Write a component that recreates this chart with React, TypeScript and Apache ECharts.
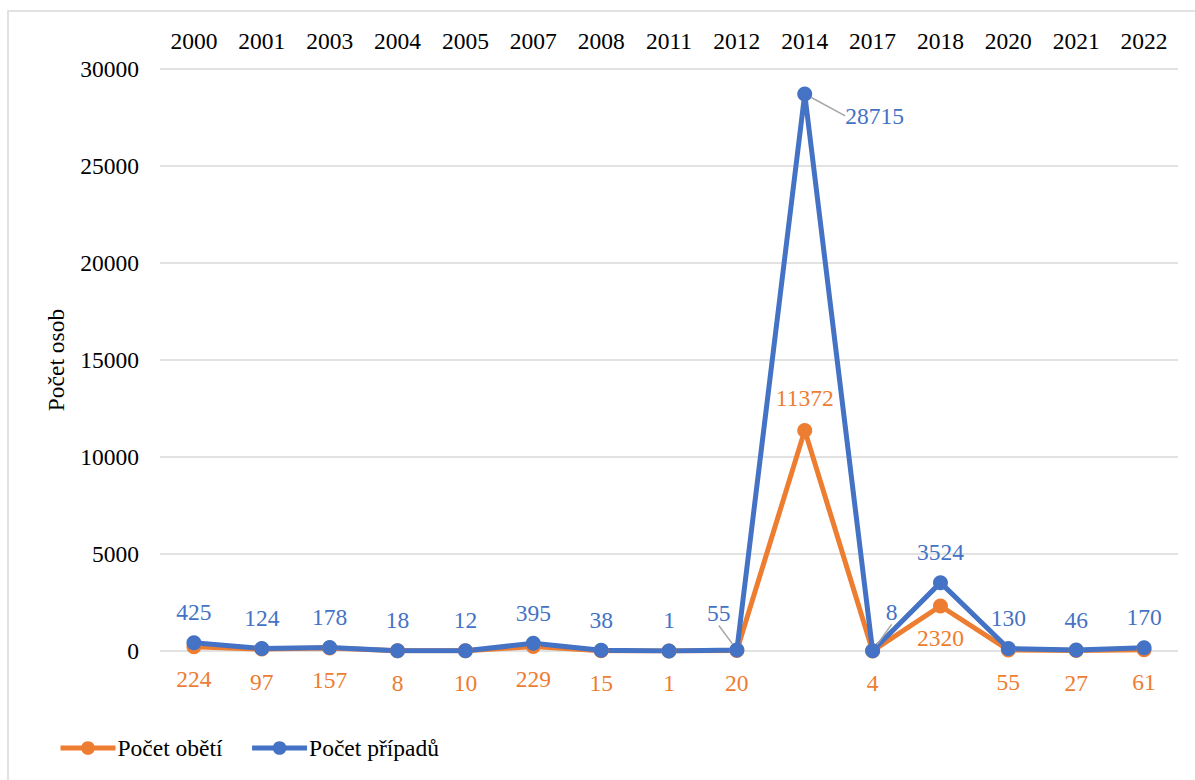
import React, { useEffect, useRef } from "react";
import * as echarts from "echarts";

const categories = ["2000", "2001", "2003", "2004", "2005", "2007", "2008", "2011", "2012", "2014", "2017", "2018", "2020", "2021", "2022"];
const obeti = [224, 97, 157, 8, 10, 229, 15, 1, 20, 11372, 4, 2320, 55, 27, 61];
const pripady = [425, 124, 178, 18, 12, 395, 38, 1, 55, 28715, 8, 3524, 130, 46, 170];
const yTicks = { min: 0, max: 30000, interval: 5000 };

const FONT = "Liberation Serif";
const FS = 23.5;
const ORANGE = "#ED7D31";
const BLUE = "#4472C4";

export default function App() {
  const ref = useRef<HTMLDivElement>(null);
  useEffect(() => {
    const chart = echarts.init(ref.current!, null, { renderer: "svg" });
    const leader = [8, 9, 10];
    const obetiData = obeti.map((v, i) => ({
      value: v,
      label: { position: i === 9 ? "top" : "bottom" },
    }));
    const pripadyData = pripady.map((v, i) => ({
      value: v,
      label: { position: i === 9 ? "right" : "top" },
      labelLine: { show: leader.includes(i) },
    }));
    const blueOffsets: Record<number, [number, number]> = {
      9: [22, 22],
      8: [-18, -6],
      10: [19, -8],
    };
    chart.setOption({
      animation: false,
      textStyle: { fontFamily: FONT },
      graphic: [
        {
          type: "rect",
          shape: { x: 8, y: 11, width: 1200, height: 800 },
          style: { fill: "none", stroke: "#d9d9d9", lineWidth: 1.5 },
          silent: true,
        },
      ],
      grid: { left: 160, right: 17, top: 69, bottom: 129, containLabel: false },
      legend: {
        left: 53,
        top: 731,
        itemWidth: 55,
        itemHeight: 17,
        itemGap: 27,
        lineStyle: { width: 5 },
        textStyle: { fontFamily: FONT, fontSize: FS, color: "#000", padding: [0, 0, 0, -3] },
        data: ["Počet obětí", "Počet případů"],
      },
      xAxis: {
        type: "category",
        position: "top",
        data: categories,
        axisLine: { show: false },
        axisTick: { show: false },
        axisLabel: { fontFamily: FONT, fontSize: FS, color: "#000", margin: 16 },
      },
      yAxis: {
        type: "value",
        min: yTicks.min,
        max: yTicks.max,
        interval: yTicks.interval,
        name: "Počet osob",
        nameLocation: "middle",
        nameGap: 92,
        nameRotate: 90,
        nameTextStyle: { fontFamily: FONT, fontSize: FS, color: "#000" },
        axisLine: { show: false },
        axisTick: { show: false },
        axisLabel: {
          fontFamily: FONT,
          fontSize: FS,
          color: "#000",
          margin: 21,
          formatter: (v: number) => String(v),
        },
        splitLine: { lineStyle: { color: "#d9d9d9", width: 1.5 } },
      },
      series: [
        {
          name: "Počet obětí",
          type: "line",
          data: obetiData,
          symbol: "circle",
          symbolSize: 15,
          itemStyle: { color: ORANGE },
          lineStyle: { color: ORANGE, width: 5 },
          label: { show: true, fontFamily: FONT, fontSize: FS, color: ORANGE, distance: 13 },
        },
        {
          name: "Počet případů",
          type: "line",
          data: pripadyData,
          symbol: "circle",
          symbolSize: 15,
          itemStyle: { color: BLUE },
          lineStyle: { color: BLUE, width: 5 },
          label: { show: true, fontFamily: FONT, fontSize: FS, color: BLUE, distance: 11 },
          labelLine: { show: false, lineStyle: { color: "#a6a6a6", width: 1.5 } },
          labelLayout: (p: any) => {
            const o = blueOffsets[p.dataIndex];
            if (o) return { dx: o[0], dy: o[1] };
            return {};
          },
        },
      ],
    });
    return () => chart.dispose();
  }, []);
  return (
    <div
      ref={ref}
      style={{ position: "fixed", left: 0, top: 0, width: 1195, height: 780, background: "#fff" }}
    />
  );
}
